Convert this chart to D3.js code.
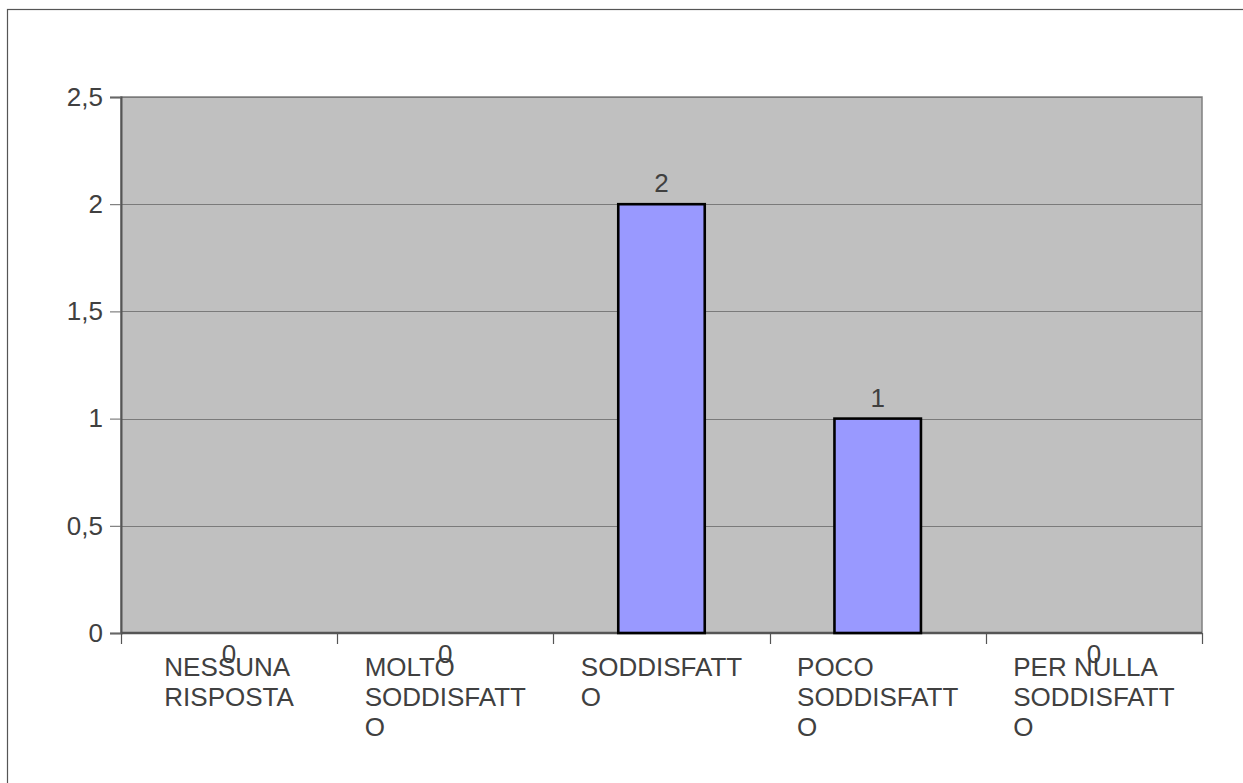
<!DOCTYPE html>
<html>
<head>
<meta charset="utf-8">
<script src="https://cdn.jsdelivr.net/npm/d3@7/dist/d3.min.js"></script>
<style>
  html, body { margin: 0; background: #fff; overflow: hidden; }
  svg { display: block; }
  text { font-family: "Liberation Sans", Arial, sans-serif; fill: #404040; }
</style>
</head>
<body>
<div id="chart"></div>
<script>
// chart data
const categories = ['NESSUNA RISPOSTA', 'MOLTO SODDISFATTO', 'SODDISFATTO', 'POCO SODDISFATTO', 'PER NULLA SODDISFATTO'];
const categoryLines = [
  ['NESSUNA', 'RISPOSTA'],
  ['MOLTO', 'SODDISFATT', 'O'],
  ['SODDISFATT', 'O'],
  ['POCO', 'SODDISFATT', 'O'],
  ['PER NULLA', 'SODDISFATT', 'O']
];
const values = [0, 0, 2, 1, 0];
const yTicks = [0, 0.5, 1, 1.5, 2, 2.5];

const W = 1243, H = 783;
const plot = { left: 121, top: 97, right: 1202, bottom: 633 };
const fontSize = 26;

const svg = d3.select('#chart')
  .append('svg')
  .attr('width', W)
  .attr('height', H);

// outer frame (runs off the page on the right and bottom)
svg.append('rect')
  .attr('x', 7.5)
  .attr('y', 9.5)
  .attr('width', W + 20)
  .attr('height', H + 20)
  .attr('fill', '#fff')
  .attr('stroke', '#555')
  .attr('stroke-width', 1.2);

const x = d3.scaleBand()
  .domain(categories)
  .range([plot.left, plot.right])
  .padding(0);

const y = d3.scaleLinear()
  .domain([0, 2.5])
  .range([plot.bottom, plot.top]);

// plot background
svg.append('rect')
  .attr('x', plot.left)
  .attr('y', plot.top)
  .attr('width', plot.right - plot.left)
  .attr('height', plot.bottom - plot.top)
  .attr('fill', '#c0c0c0')
  .attr('stroke', '#808080')
  .attr('stroke-width', 1.5);

// gridlines
svg.append('g')
  .selectAll('line')
  .data(yTicks.filter(d => d > 0))
  .enter()
  .append('line')
  .attr('x1', plot.left)
  .attr('x2', plot.right)
  .attr('y1', d => Math.round(y(d)) + 0.5)
  .attr('y2', d => Math.round(y(d)) + 0.5)
  .attr('stroke', '#7a7a7a')
  .attr('stroke-width', 1);

// y axis
const yAxis = svg.append('g')
  .attr('transform', `translate(${plot.left},0)`)
  .call(d3.axisLeft(y)
    .tickValues(yTicks)
    .tickSize(11)
    .tickPadding(7)
    .tickFormat(d => String(d).replace('.', ',')));
yAxis.select('.domain').attr('stroke', '#555').attr('stroke-width', 2);
yAxis.selectAll('.tick line').attr('stroke', '#666');
yAxis.selectAll('.tick text')
  .style('font-size', fontSize + 'px')
  .attr('fill', '#404040');

// x axis: category boundary ticks
svg.append('line')
  .attr('x1', plot.left)
  .attr('x2', plot.right)
  .attr('y1', plot.bottom)
  .attr('y2', plot.bottom)
  .attr('stroke', '#555')
  .attr('stroke-width', 2.5);

const bounds = categories.map(c => x(c)).concat([x(categories[categories.length - 1]) + x.bandwidth()]);
svg.append('g')
  .selectAll('line')
  .data(bounds)
  .enter()
  .append('line')
  .attr('x1', d => Math.round(d) + 0.5)
  .attr('x2', d => Math.round(d) + 0.5)
  .attr('y1', plot.bottom)
  .attr('y2', plot.bottom + 11)
  .attr('stroke', '#555')
  .attr('stroke-width', 1.2);

// bars
const barW = x.bandwidth() * 0.4;
svg.append('g')
  .selectAll('rect')
  .data(values.map((v, i) => ({ v: v, c: categories[i] })).filter(d => d.v > 0))
  .enter()
  .append('rect')
  .attr('x', d => x(d.c) + x.bandwidth() / 2 - barW / 2)
  .attr('y', d => y(d.v))
  .attr('width', barW)
  .attr('height', d => y(0) - y(d.v))
  .attr('fill', '#9999ff')
  .attr('stroke', '#000')
  .attr('stroke-width', 2.6);

// category labels (block centred, lines left aligned)
const catG = svg.append('g');
categoryLines.forEach((lines, i) => {
  const g = catG.append('g');
  const t = g.append('text')
    .style('font-size', fontSize + 'px');
  lines.forEach((line, j) => {
    t.append('tspan')
      .attr('x', 0)
      .attr('y', plot.bottom + 43 + j * 30)
      .text(line);
  });
  let maxW = 0;
  t.selectAll('tspan').each(function () {
    maxW = Math.max(maxW, this.getComputedTextLength());
  });
  const cx = x(categories[i]) + x.bandwidth() / 2;
  g.attr('transform', `translate(${cx - maxW / 2},0)`);
});

// value labels (the zero ones sit under the axis, as in the original)
svg.append('g')
  .selectAll('text')
  .data(values.map((v, i) => ({ v: v, c: categories[i] })))
  .enter()
  .append('text')
  .attr('x', d => x(d.c) + x.bandwidth() / 2)
  .attr('y', d => d.v > 0 ? y(d.v) - 12 : y(0) + 30)
  .attr('text-anchor', 'middle')
  .style('font-size', fontSize + 'px')
  .text(d => d.v);
</script>
</body>
</html>
